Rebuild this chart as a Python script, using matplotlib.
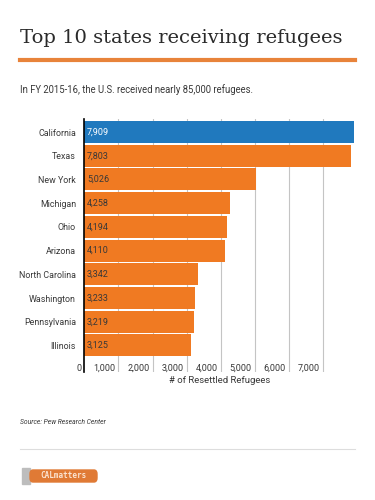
import matplotlib.pyplot as plt
from matplotlib.patches import FancyBboxPatch, Rectangle
from matplotlib.lines import Line2D

plt.rcParams["font.family"] = ["Roboto", "DejaVu Sans"]

states = ["California", "Texas", "New York", "Michigan", "Ohio", "Arizona",
          "North Carolina", "Washington", "Pennsylvania", "Illinois"]
refugees = [7909, 7803, 5026, 4258, 4194, 4110, 3342, 3233, 3219, 3125]
xticks = [0, 1000, 2000, 3000, 4000, 5000, 6000, 7000]

blue = "#2079be"
orange = "#f07a22"
text_col = "#383838"

fig = plt.figure(figsize=(3.75, 5), dpi=100)
W, H = 375, 500

def fx(px):
    return px / W

def fy(py):
    return 1 - py / H

# header
fig.text(fx(20), fy(38), "Top 10 states receiving refugees", family="DejaVu Serif",
         fontsize=14, color="#2a2a2a", va="center", ha="left")
fig.add_artist(Line2D([fx(20), fx(355)], [fy(60), fy(60)], color="#e8833a", lw=3))
fig.text(fx(20), fy(90), "In FY 2015-16, the U.S. received nearly 85,000 refugees.",
         fontsize=6.85, color=text_col, va="center", ha="left")

# chart
ax = fig.add_axes([fx(84.3), fy(372), fx(354.3) - fx(84.3), fy(119) - fy(372)])
colors = [blue] + [orange] * (len(states) - 1)
ypos = list(range(len(states)))
ax.barh(ypos, refugees, height=0.93, color=colors, zorder=2)
ax.set_xlim(0, refugees[0])
ax.set_ylim(10.12, -0.55)

for x in xticks[1:]:
    ax.axvline(x, color="#c4c4c4", lw=0.8, zorder=1)
for x in xticks:
    ax.text(x - 90, 9.96, f"{x:,}", ha="right", va="center", fontsize=6.5, color=text_col)

for i, v in enumerate(refugees):
    ax.text(80, i, f"{v:,}", ha="left", va="center", fontsize=6.5,
            color="white" if i == 0 else text_col, zorder=3)

ax.set_yticks(ypos)
ax.set_yticklabels(states, fontsize=6.4, color=text_col)
ax.tick_params(axis="y", length=0, pad=6)
ax.set_xticks([])
for s in ["top", "right", "bottom"]:
    ax.spines[s].set_visible(False)
ax.spines["left"].set_color("black")
ax.spines["left"].set_linewidth(1.2)
ax.spines["left"].set_zorder(4)
ax.set_xlabel("# of Resettled Refugees", fontsize=6.8, color=text_col, labelpad=3)

# footer
fig.text(fx(20), fy(422), "Source: Pew Research Center", style="italic",
         fontsize=4.9, color=text_col, va="center", ha="left")
fig.add_artist(Line2D([fx(20), fx(355)], [fy(449), fy(449)], color="#dddddd", lw=0.8))

# logo
fig.add_artist(Rectangle((fx(22), fy(484)), fx(8), fy(468) - fy(484),
                         color="#bdbdbd", transform=fig.transFigure))
fig.add_artist(FancyBboxPatch((fx(30), fy(482)), fx(67), fy(470) - fy(482),
                              boxstyle="round,pad=0,rounding_size=0.008",
                              color="#e07a35", transform=fig.transFigure))
fig.text(fx(63), fy(476), "CALmatters", family="DejaVu Sans Mono", fontsize=5.5,
         color="#fbe3d0", ha="center", va="center", weight="bold")

fig.savefig("out.png", dpi=100)
